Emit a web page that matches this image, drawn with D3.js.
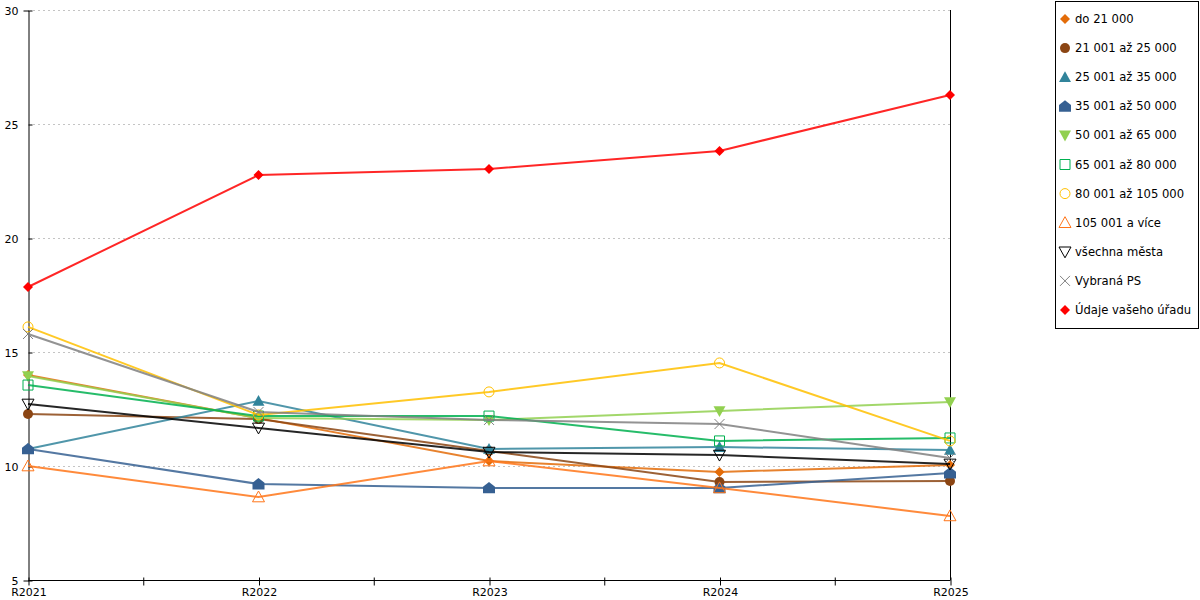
<!DOCTYPE html>
<html lang="cs">
<head>
<meta charset="UTF-8">
<title>Vývoj ukazatele</title>
<script src="https://d3js.org/d3.v7.min.js"></script>
<style>
  body, html { margin: 0; padding: 0; background: #fff; }
  svg { display: block; }
  text { font-family: "DejaVu Sans", Verdana, sans-serif; font-size: 11px; fill: #000; }
  .legend text { font-size: 11.6px; }
</style>
</head>
<body>
<script>
// data
const years = ["R2021", "R2022", "R2023", "R2024", "R2025"];
const seriesNames = ["do 21 000", "21 001 až 25 000", "25 001 až 35 000", "35 001 až 50 000",
  "50 001 až 65 000", "65 001 až 80 000", "80 001 až 105 000", "105 001 a více",
  "všechna města", "Vybraná PS", "Údaje vašeho úřadu"];
const do21 = [13.99, 12.10, 10.22, 9.74, 10.04];
const do25 = [12.28, 12.06, 10.66, 9.30, 9.34];
const do35 = [10.75, 12.85, 10.75, 10.83, 10.70];
const do50 = [10.75, 9.21, 9.04, 9.04, 9.69];
const do65 = [13.95, 12.10, 12.02, 12.41, 12.81];
const do80 = [13.55, 12.19, 12.19, 11.10, 11.23];
const do105 = [16.10, 12.24, 13.25, 14.52, 11.10];
const nad105 = [10.00, 8.64, 10.22, 9.04, 7.81];
const vsechna = [12.72, 11.67, 10.61, 10.48, 10.09];
const vybranaPS = [15.79, 12.37, 12.02, 11.84, 10.35];
const vasUrad = [17.85, 22.76, 23.03, 23.82, 26.27];
const yTicks = [5, 10, 15, 20, 25, 30];

const values = [do21, do25, do35, do50, do65, do80, do105, nad105, vsechna, vybranaPS, vasUrad];
const colors = ["#e36c09", "#8b4513", "#31849b", "#366092", "#92d050", "#00b050",
  "#ffc000", "#ff7519", "#000000", "#808080", "#ff0000"];
const shapes = ["diamond", "circle", "triangle", "house", "down", "square",
  "ocircle", "otriangle", "odown", "cross", "diamond"];

const width = 1200, height = 600;
const svg = d3.select("body").append("svg")
  .attr("width", width).attr("height", height);

const x = d3.scalePoint().domain(years).range([28, 950]);
const y = d3.scaleLinear().domain([5, 30]).range([580, 10]);

// grid
svg.append("g").selectAll("line")
  .data(yTicks.filter(d => d > 5))
  .enter().append("line")
  .attr("x1", 33).attr("x2", 950)
  .attr("y1", d => Math.round(y(d)) + 0.5).attr("y2", d => Math.round(y(d)) + 0.5)
  .attr("stroke", "#c4c4c4").attr("stroke-dasharray", "2,3");

// right border line
svg.append("line")
  .attr("x1", 950.5).attr("x2", 950.5).attr("y1", y(30)).attr("y2", y(5))
  .attr("stroke", "#000");

// y axis
const yAxis = svg.append("g").attr("transform", "translate(28.5,0.5)")
  .call(d3.axisLeft(y).tickValues(yTicks).tickSize(5).tickFormat(d3.format("d")));
yAxis.select(".domain").attr("stroke", "#000");
yAxis.selectAll(".tick line").attr("x2", 4);
yAxis.selectAll(".tick text").attr("x", -10);

// x axis with minor ticks between categories
const xAxis = svg.append("g").attr("transform", "translate(0.5,580.5)")
  .call(d3.axisBottom(x).tickSize(5).tickSizeOuter(0));
xAxis.select(".domain").attr("d", `M28,0H950`);
xAxis.selectAll(".tick line").attr("y1", -3).attr("y2", 5);
xAxis.selectAll(".tick text").attr("y", 8).attr("dy", "0.71em");
const mids = d3.pairs(years).map(p => (x(p[0]) + x(p[1])) / 2);
xAxis.append("g").selectAll("line").data(mids).enter().append("line")
  .attr("x1", d => d).attr("x2", d => d).attr("y1", -3).attr("y2", 5)
  .attr("stroke", "#000");
svg.selectAll(".tick text").attr("font-family", null).attr("font-size", null);

function shapePath(kind, s) {
  switch (kind) {
    case "diamond": return `M0,${-s}L${s},0L0,${s}L${-s},0Z`;
    case "triangle": case "otriangle": return `M0,${-s}L${s},${s * 0.8}L${-s},${s * 0.8}Z`;
    case "down": case "odown": return `M0,${s}L${s},${-s * 0.8}L${-s},${-s * 0.8}Z`;
    case "square": return `M${-s},${-s}H${s}V${s}H${-s}Z`;
    case "house": return `M0,${-s}L${s},${-s * 0.2}V${s * 0.9}H${-s}V${-s * 0.2}Z`;
    case "cross": return `M${-s},${-s}L${s},${s}M${s},${-s}L${-s},${s}`;
  }
}

function drawMarker(g, kind, color) {
  const filled = ["diamond", "circle", "triangle", "house", "down"].includes(kind);
  if (kind === "circle" || kind === "ocircle") {
    g.append("circle").attr("r", 5)
      .attr("fill", kind === "circle" ? color : "#fff")
      .attr("fill-opacity", kind === "circle" ? 1 : 0)
      .attr("stroke", color).attr("stroke-width", kind === "circle" ? 0 : 1);
    return;
  }
  const size = { diamond: 5, triangle: 6, otriangle: 6, down: 6, odown: 6, square: 5, house: 6, cross: 5 }[kind];
  g.append("path").attr("d", shapePath(kind, size))
    .attr("fill", filled ? color : "none")
    .attr("stroke", color)
    .attr("stroke-width", filled ? 0 : 1);
}

const line = d3.line().x((d, i) => x(years[i])).y(d => y(d));

// series lines then markers
const series = svg.append("g").selectAll("g")
  .data(values.map((v, i) => ({ name: seriesNames[i], v, color: colors[i], shape: shapes[i] })))
  .enter().append("g");

series.append("path")
  .attr("d", d => line(d.v))
  .attr("fill", "none")
  .attr("stroke", d => d.color)
  .attr("stroke-opacity", 0.85)
  .attr("stroke-width", 2);

series.each(function (d) {
  const g = d3.select(this);
  d.v.forEach((val, i) => {
    drawMarker(g.append("g").attr("transform", `translate(${x(years[i])},${y(val)})`), d.shape, d.color);
  });
});

// legend
const legend = svg.append("g").attr("class", "legend");
legend.append("rect")
  .attr("x", 1055.5).attr("y", 1.5).attr("width", 143).attr("height", 327)
  .attr("fill", "#fff").attr("stroke", "#000");
const items = legend.selectAll("g.item").data(seriesNames).enter().append("g")
  .attr("class", "item")
  .attr("transform", (d, i) => `translate(1065,${19 + i * 29.1})`);
items.each(function (d, i) {
  drawMarker(d3.select(this), shapes[i], colors[i]);
});
items.append("text").attr("x", 10).attr("dy", "0.35em").text(d => d);
</script>
</body>
</html>
